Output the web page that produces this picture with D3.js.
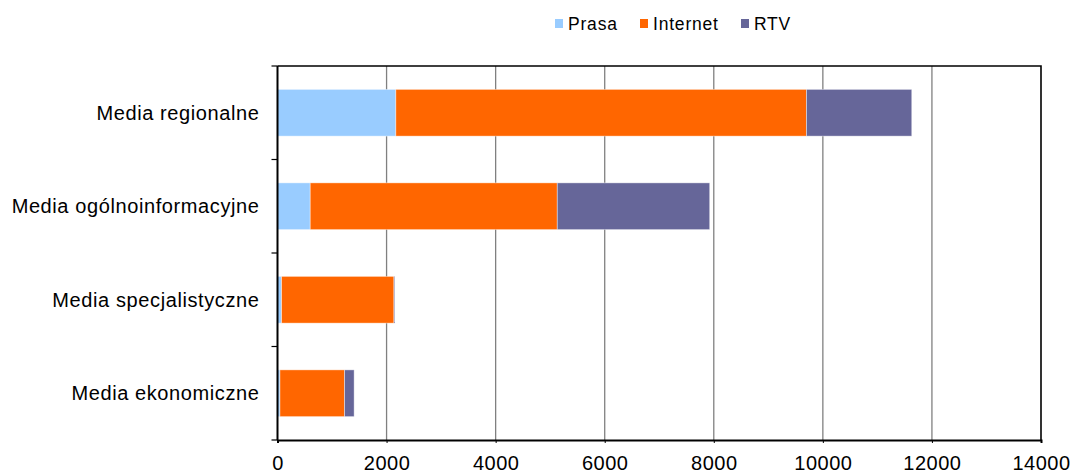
<!DOCTYPE html>
<html lang="en">
<head>
    <meta charset="utf-8">
    <title>Media - Prasa / Internet / RTV</title>
    <script src="https://d3js.org/d3.v7.min.js"></script>
    <style>
        body { margin: 0; background: #fff; }
        text { font-family: "Liberation Sans", Arial, sans-serif; fill: #000; }
    </style>
</head>
<body>
<div id="chart"></div>

<script>
    // values
    const categories = ["Media regionalne", "Media ogólnoinformacyjne", "Media specjalistyczne", "Media ekonomiczne"];
    const series = ["Prasa", "Internet", "RTV"];
    const prasa = [2170, 600, 75, 45];
    const internet = [7530, 4530, 2060, 1185];
    const rtv = [1930, 2795, 15, 175];
    const xTicks = [0, 2000, 4000, 6000, 8000, 10000, 12000, 14000];
    const colors = ["#99ccff", "#ff6600", "#666699"];

    const width = 1074, height = 474;
    const margin = {top: 66, right: 33, bottom: 34, left: 277.5};

    const svg = d3.select("#chart").append("svg")
        .attr("width", width)
        .attr("height", height);

    const x = d3.scaleLinear().domain([0, 14000]).range([margin.left, width - margin.right]);
    const y = d3.scaleBand().domain(categories).range([margin.top, height - margin.bottom]).paddingInner(0.5).paddingOuter(0.25);

    const rows = categories.map((c, i) => ({cat: c, Prasa: prasa[i], Internet: internet[i], RTV: rtv[i]}));
    const stacked = d3.stack().keys(series)(rows);

    // gridlines
    svg.append("g").selectAll("line")
        .data(xTicks.slice(1, -1))
        .join("line")
        .attr("x1", d => x(d)).attr("x2", d => x(d))
        .attr("y1", margin.top).attr("y2", height - margin.bottom)
        .attr("stroke", "#808080")
        .attr("stroke-width", 1.3);

    // bars
    svg.append("g").selectAll("g")
        .data(stacked)
        .join("g")
        .attr("fill", (d, i) => colors[i])
        .selectAll("rect")
        .data(d => d)
        .join("rect")
        .attr("x", d => x(d[0]))
        .attr("y", d => y(d.data.cat))
        .attr("width", d => x(d[1]) - x(d[0]))
        .attr("height", y.bandwidth())
        .attr("stroke", "#ffffff")
        .attr("stroke-opacity", 0.5)
        .attr("stroke-width", 0.8);

    // plot frame (top + right)
    svg.append("path")
        .attr("d", `M${x(0)},${margin.top}H${x(14000)}V${height - margin.bottom}`)
        .attr("fill", "none")
        .attr("stroke", "#000")
        .attr("stroke-width", 1.6);

    // x axis
    const xAxis = svg.append("g")
        .attr("transform", `translate(0,${height - margin.bottom})`)
        .call(d3.axisBottom(x).tickValues(xTicks).tickFormat(d3.format("d")).tickSize(3).tickPadding(13));
    xAxis.select(".domain").attr("stroke", "#000").attr("stroke-width", 2);
    xAxis.selectAll(".tick line").attr("stroke", "#000");
    xAxis.selectAll("text").attr("font-size", 20).attr("fill", "#000")
        .attr("letter-spacing", "0.5px")
        .attr("font-family", "Liberation Sans, Arial, sans-serif");

    // y axis: line + ticks between categories
    const step = y.step();
    const yBounds = d3.range(categories.length + 1).map(i => margin.top + i * step);
    svg.append("line")
        .attr("x1", x(0)).attr("x2", x(0))
        .attr("y1", margin.top).attr("y2", height - margin.bottom)
        .attr("stroke", "#000").attr("stroke-width", 2);
    svg.append("g").selectAll("line")
        .data(yBounds)
        .join("line")
        .attr("x1", x(0) - 6).attr("x2", x(0))
        .attr("y1", d => d).attr("y2", d => d)
        .attr("stroke", "#000").attr("stroke-width", 1.2);

    svg.append("g").selectAll("text")
        .data(categories)
        .join("text")
        .attr("x", x(0) - 18)
        .attr("y", d => y(d) + y.bandwidth() / 2)
        .attr("dy", "0.35em")
        .attr("text-anchor", "end")
        .attr("font-size", 20)
        .attr("letter-spacing", "0.6px")
        .text(d => d);

    // legend
    const legendX = [555, 640, 741];
    const legend = svg.append("g").selectAll("g")
        .data(series)
        .join("g")
        .attr("transform", (d, i) => `translate(${legendX[i]},0)`);
    legend.append("rect")
        .attr("x", 0).attr("y", 19)
        .attr("width", 8).attr("height", 9)
        .attr("fill", (d, i) => colors[i]);
    legend.append("text")
        .attr("x", 13).attr("y", 30)
        .attr("font-size", 17.5)
        .attr("letter-spacing", "0.8px")
        .text(d => d);
</script>
</body>
</html>
